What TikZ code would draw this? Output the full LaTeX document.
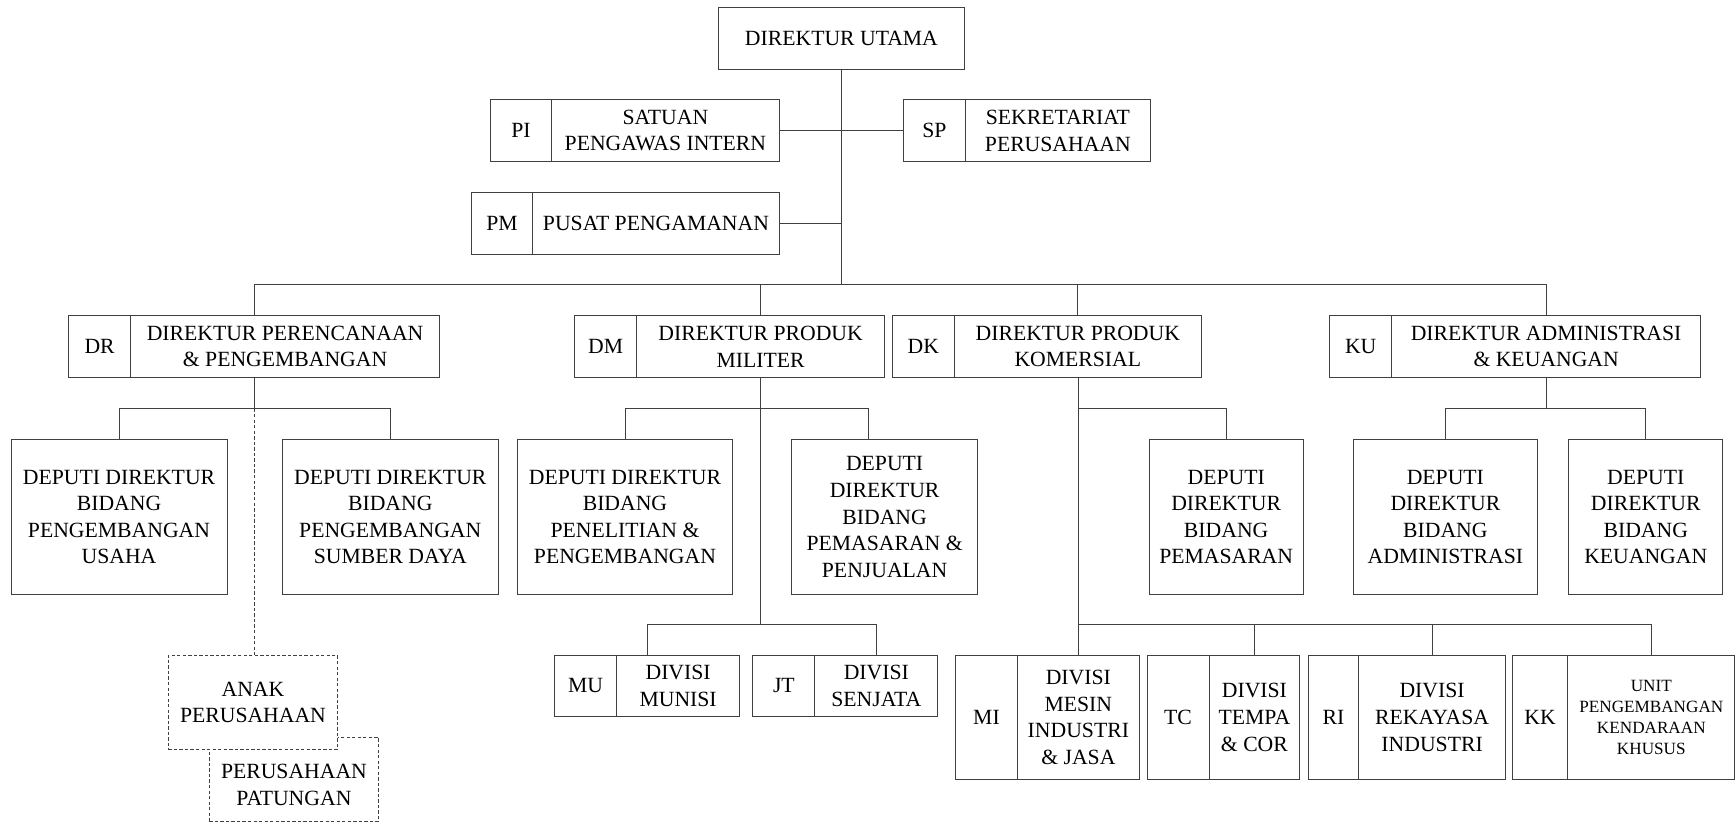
\documentclass[tikz,border=0pt]{standalone}
\usepackage{fontspec}
\setmainfont{Liberation Serif}
\usepackage{tikz}
\usetikzlibrary{positioning}
\tikzset{unit/.style = {draw=black!75,line width=0.8pt,fill=white,inner sep=0pt,align=center,font=\fontsize{19.6}{24}\selectfont},
         head/.style = {unit,minimum height=56},
         deputy/.style = {unit,minimum height=140},
         divisi/.style = {unit,minimum height=112},
         link/.style = {draw=black!75,line width=0.8pt},
         loose/.style = {dash pattern=on 3pt off 2pt}}

\begin{document}
\begin{tikzpicture}[x=1pt,y=-1pt]
                    \useasboundingbox (0,0) rectangle (1568,751);

                    % pimpinan
                    \node [head,minimum width=222] (du)  at (760,34.5)  {DIREKTUR UTAMA};
                    \node [head,minimum width=55]  (pi)  at (470.5,118) {PI};
                    \node [head,minimum width=206] (piT) at (601,118)   {SATUAN\\PENGAWAS INTERN};
                    \node [head,minimum width=56]  (sp)  at (844,118)   {SP};
                    \node [head,minimum width=167] (spT) at (955.5,118) {SEKRETARIAT\\PERUSAHAAN};
                    \node [head,minimum width=55]  (pm)  at (453.5,201.5) {PM};
                    \node [head,minimum width=223] (pmT) at (592.5,201.5) {PUSAT PENGAMANAN};

                    % direktur
                    \node [head,minimum width=56]  (dr)  at (90,313)     {DR};
                    \node [head,minimum width=279] (drT) at (257.5,313)  {DIREKTUR PERENCANAAN\\\& PENGEMBANGAN};
                    \node [head,minimum width=56]  (dm)  at (547,313)    {DM};
                    \node [head,minimum width=224] (dmT) at (687,313)    {DIREKTUR PRODUK\\MILITER};
                    \node [head,minimum width=56]  (dk)  at (834,313)    {DK};
                    \node [head,minimum width=223] (dkT) at (973.5,313)  {DIREKTUR PRODUK\\KOMERSIAL};
                    \node [head,minimum width=56]  (ku)  at (1229,313)   {KU};
                    \node [head,minimum width=279] (kuT) at (1396.5,313) {DIREKTUR ADMINISTRASI\\\& KEUANGAN};

                    % deputi
                    \node [deputy,minimum width=195] (ddpu) at (107.5,467)  {DEPUTI DIREKTUR\\BIDANG\\PENGEMBANGAN\\USAHA};
                    \node [deputy,minimum width=195] (ddps) at (352.5,467)  {DEPUTI DIREKTUR\\BIDANG\\PENGEMBANGAN\\SUMBER DAYA};
                    \node [deputy,minimum width=195] (ddpp) at (564.5,467)  {DEPUTI DIREKTUR\\BIDANG\\PENELITIAN \&\\PENGEMBANGAN};
                    \node [deputy,minimum width=168] (ddpj) at (799,467)    {DEPUTI\\DIREKTUR\\BIDANG\\PEMASARAN \&\\PENJUALAN};
                    \node [deputy,minimum width=139] (ddpm) at (1107.5,467) {DEPUTI\\DIREKTUR\\BIDANG\\PEMASARAN};
                    \node [deputy,minimum width=167] (ddpa) at (1305.5,467) {DEPUTI\\DIREKTUR\\BIDANG\\ADMINISTRASI};
                    \node [deputy,minimum width=139] (ddpk) at (1486.5,467) {DEPUTI\\DIREKTUR\\BIDANG\\KEUANGAN};

                    % divisi
                    \node [unit,minimum height=55,minimum width=56]  (mu)  at (529,619.5)   {MU};
                    \node [unit,minimum height=55,minimum width=111] (muT) at (612.5,619.5) {DIVISI\\MUNISI};
                    \node [unit,minimum height=55,minimum width=56]  (jt)  at (708,619.5)   {JT};
                    \node [unit,minimum height=55,minimum width=111] (jtT) at (791.5,619.5) {DIVISI\\SENJATA};
                    \node [divisi,minimum width=56]  (mi)  at (891,648)    {MI};
                    \node [divisi,minimum width=110] (miT) at (974,648)    {DIVISI\\MESIN\\INDUSTRI\\\& JASA};
                    \node [divisi,minimum width=56]  (tc)  at (1064,648)   {TC};
                    \node [divisi,minimum width=82]  (tcT) at (1133,648)   {DIVISI\\TEMPA\\\& COR};
                    \node [divisi,minimum width=45]  (ri)  at (1204.5,648) {RI};
                    \node [divisi,minimum width=133] (riT) at (1293.5,648) {DIVISI\\REKAYASA\\INDUSTRI};
                    \node [divisi,minimum width=50]  (kk)  at (1391,648)   {KK};
                    \node [divisi,minimum width=151,font=\fontsize{15.5}{18.7}\selectfont] (kkT) at (1491.5,648) {UNIT\\PENGEMBANGAN\\KENDARAAN\\KHUSUS};

                    % anak perusahaan
                    \node [unit,loose,minimum width=153,minimum height=76] (pat)  at (265.5,704)  {};
                    \node [font=\fontsize{19.6}{24}\selectfont,align=center,inner sep=0pt] (patT) at ([yshift=-5pt]pat.center) {PERUSAHAAN\\PATUNGAN};
                    \node [unit,loose,minimum width=153,minimum height=85] (anak) at (228.5,634.5) {ANAK\\PERUSAHAAN};

                    \coordinate (hub)    at (760,257);
                    \coordinate (drTop)  at (230,285);
                    \coordinate (drBot)  at (230,341);
                    \coordinate (drFork) at (230,369);
                    \coordinate (dmFork) at (687,369);
                    \coordinate (dmHub)  at (687,564);
                    \coordinate (pjTop)  at (784,397);
                    \coordinate (muTop)  at (585,592);
                    \coordinate (dkFork) at (974,369);
                    \coordinate (dkHub)  at (974,564);
                    \coordinate (kuFork) at (1396.5,369);

                    \draw [link] (du) -- (hub);
                    \draw [link] (piT) -- (sp);
                    \draw [link] (pmT.east) -- (pmT.east -| hub);
                    \draw [link] (drTop) |- (hub) -| (kuT.north);
                    \draw [link] (hub) -| (dmT.north);
                    \draw [link] (hub) -| (dkT.north);

                    \draw [link] (drBot) -- (drFork);
                    \draw [link] (ddpu.north) |- (drFork) -| (ddps.north);
                    \draw [link,loose] (drFork) -- (drFork |- anak.north);

                    \draw [link] (dmT) -- (dmHub);
                    \draw [link] (ddpp.north) |- (dmFork) -| (pjTop);
                    \draw [link] (muTop) |- (dmHub) -| (jtT.north);

                    \draw [link] (dkHub |- dkT.south) -- (dkHub |- miT.north);
                    \draw [link] (dkFork) -| (ddpm.north);
                    \draw [link] (dkHub) -| (tcT.north);
                    \draw [link] (dkHub) -| (riT.north);
                    \draw [link] (dkHub) -| (kkT.north);

                    \draw [link] (kuT) -- (kuFork);
                    \draw [link] (ddpa.north) |- (kuFork) -| (ddpk.north);
                \end{tikzpicture}
\end{document}
